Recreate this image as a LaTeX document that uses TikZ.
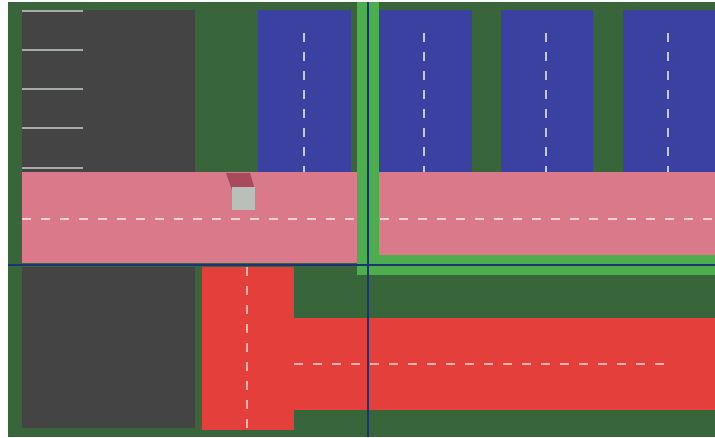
\documentclass[tikz,border=0pt]{standalone}
\begin{document}
\definecolor{grass}{HTML}{38663A}
\definecolor{asphalt}{HTML}{444444}
\definecolor{lotblue}{HTML}{3A41A0}
\definecolor{roadpink}{HTML}{D9798A}
\definecolor{roadred}{HTML}{E53F3B}
\definecolor{hedge}{HTML}{4CAE4C}
\definecolor{gridnavy}{HTML}{1A3572}
\definecolor{stripe}{HTML}{A8ACA8}
\definecolor{carbody}{HTML}{B9C0B9}
\definecolor{carshade}{HTML}{A84A5C}
\tikzset{
  marking/.style={stripe, line width=2.5pt},
  centerline/.style={line width=1.5pt, dash pattern=on 9pt off 10pt},
  gridline/.style={gridnavy, line width=2.5pt},
}
\begin{tikzpicture}[x=1pt,y=-1pt]
\useasboundingbox (0,0) rectangle (715,437);
\fill[white] (0,0) rectangle (715,437);
\fill[grass] (8,2) rectangle (715,437);
% parking areas
\fill[asphalt] (22,10) rectangle (195,172);
\fill[asphalt] (22,267) rectangle (195,428);
\foreach \y in {11,50,89,128,168}
  \draw[marking] (22,\y) -- (83,\y);
% blue lots with dashed centre lines
\foreach \a/\b/\m in {258/351/304, 379/472/424, 501/593/546, 623/715/668} {
  \fill[lotblue] (\a,10) rectangle (\b,172);
  \draw[centerline, color=lotblue!30!white] (\m,33) -- (\m,172);
}
% green border around the right pink road
\fill[hedge] (357,2) rectangle (379,275);
\fill[hedge] (357,255) rectangle (715,275);
% pink roads
\fill[roadpink] (22,172) rectangle (357,263);
\fill[roadpink] (379,172) rectangle (715,255);
\draw[centerline, color=roadpink!35!white] (22,219) -- (357,219);
\draw[centerline, color=roadpink!35!white] (380,219) -- (714,219);
% red road
\fill[roadred] (202,267) rectangle (294,430);
\fill[roadred] (294,318) rectangle (715,410);
\draw[centerline, color=roadred!40!white] (247,267) -- (247,430);
\draw[centerline, color=roadred!40!white] (294,364) -- (672,364);
% grid lines
\draw[gridline] (8,265) -- (715,265);
\draw[gridline] (368,2) -- (368,437);
% car
\fill[carshade] (226,173) -- (250,173) -- (255,190) -- (232,190) -- cycle;
\fill[carbody] (232,187) rectangle (255,210);
\end{tikzpicture}
\end{document}
